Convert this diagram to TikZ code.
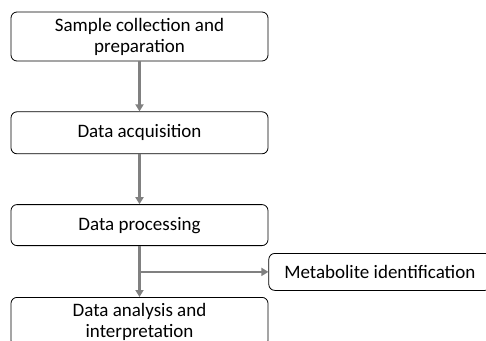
\documentclass[tikz,border=0pt]{standalone}
\usepackage{fontspec}
\setmainfont{Carlito}
\usepackage{tikz}
\usetikzlibrary{arrows.meta,positioning}
\usepackage{xcolor}
\definecolor{flowgray}{HTML}{808080}

\begin{document}
\begin{tikzpicture}[x=1pt,y=1pt,node distance=50pt,
  stage/.style={draw,line width=0.8pt,rounded corners=6pt,minimum width=257pt,minimum height=42pt,
    inner sep=0pt,align=center,font=\fontsize{19}{21}\selectfont},
  flow/.style={draw=flowgray,line width=2.4pt,-{Triangle[width=8pt,length=7pt]}}]
\useasboundingbox (0,0) rectangle (486,340);
\clip (0,0) rectangle (486,340);
\node[stage, minimum height=49pt] (sample) at (139.5,303.5) {Sample collection and\\preparation};
\node[stage, below=of sample] (acq) {Data acquisition};
\node[stage, minimum height=41pt, below=of acq] (proc) {Data processing};
\node[stage, minimum height=49pt, below=51pt of proc] (anal) {Data analysis and\\interpretation};
\node[stage, minimum width=222pt, minimum height=37pt, below right=7pt and 0pt of proc] (meta) {Metabolite identification};
\coordinate (split) at (proc.south |- meta.west);
\draw[flow] (sample) -- (acq);
\draw[flow] (acq) -- (proc);
\draw[flow] (proc) -- (anal);
\draw[flow] (split) -- (meta);
\end{tikzpicture}
\end{document}
